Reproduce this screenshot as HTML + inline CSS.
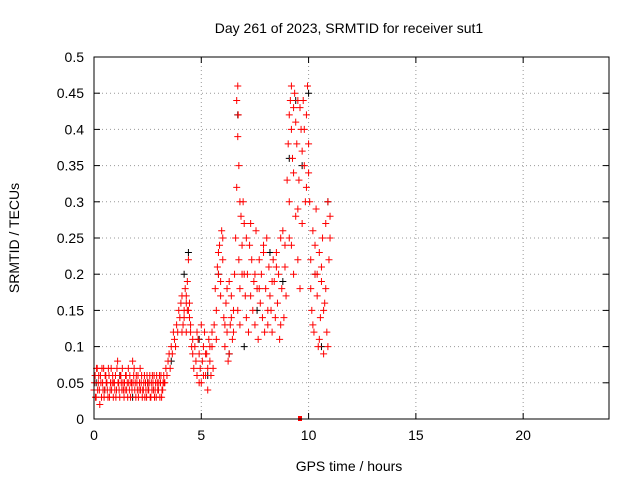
<!DOCTYPE html>
<html><head><meta charset="utf-8"><style>
body{margin:0;background:#fff;}
svg{display:block;font-family:"Liberation Sans",sans-serif;}
</style></head><body>
<svg id="chart" width="640" height="480">
<text x="349" y="33" text-anchor="middle" font-size="14">Day 261 of 2023, SRMTID for receiver sut1</text>
<text x="349" y="471" text-anchor="middle" font-size="14">GPS time / hours</text>
<text transform="translate(19,238) rotate(-90)" text-anchor="middle" font-size="14">SRMTID / TECUs</text>
<g id="grid"></g><g id="axes"></g><g id="marks"></g>
<rect x="94" y="57" width="515" height="362" fill="none" stroke="#000" stroke-width="1"/>
</svg>
<script>
const xTicks=[0,5,10,15,20];
const yTicks=[0,0.05,0.1,0.15,0.2,0.25,0.3,0.35,0.4,0.45,0.5];
const yTickLabels=["0","0.05","0.1","0.15","0.2","0.25","0.3","0.35","0.4","0.45","0.5"];
const redT=[0,0.05,0.1,0.15,0.2,0.25,0.3,0.35,0.4,0.45,0.5,0.55,0.6,0.65,0.7,0.75,0.8,0.85,0.9,0.95,1.0,1.05,1.1,1.15,1.2,1.25,1.3,1.35,1.4,1.45,1.5,1.55,1.6,1.65,1.7,1.75,1.8,1.85,1.9,1.95,2.0,2.05,2.1,2.15,2.2,2.25,2.3,2.35,2.4,2.45,2.5,2.55,2.6,2.65,2.7,2.75,2.8,2.85,2.9,2.95,3.0,3.05,3.1,3.15,3.2,3.25,
0.02,0.07,0.12,0.17,0.22,0.27,0.32,0.37,0.42,0.47,0.52,0.57,0.62,0.67,0.72,0.77,0.82,0.87,0.92,0.97,1.02,1.07,1.12,1.17,1.22,1.27,1.32,1.37,1.42,1.47,1.52,1.57,1.62,1.67,1.72,1.77,1.82,1.87,1.92,1.97,2.02,2.07,2.12,2.17,2.22,2.27,2.32,2.37,2.42,2.47,2.52,2.57,2.62,2.67,2.72,2.77,2.82,2.87,2.92,2.97,3.02,3.07,3.12,3.17,3.22,3.27,
3.3,3.35,3.4,3.45,3.5,3.55,3.6,3.65,3.7,3.75,3.8,3.85,3.9,3.95,4.0,4.05,4.1,4.15,4.2,4.25,4.3,4.35,4.4,4.45,4.5,4.55,4.6,4.1,4.2,4.3,4.4,4.5,4.3,4.35,4.45,
4.6,4.65,4.7,4.75,4.8,4.85,4.9,4.95,5.0,5.05,5.1,5.15,5.2,5.25,5.3,5.35,5.4,5.45,5.5,5.55,4.8,4.9,5.0,5.1,5.2,5.3,5.4,5.5,
5.6,5.65,5.7,5.75,5.8,5.85,5.9,5.95,6.0,6.05,6.1,6.15,6.2,6.25,6.3,6.35,6.4,6.45,6.5,6.55,5.7,5.8,5.9,6.0,6.1,6.2,6.3,6.4,6.5,
6.6,6.65,6.65,6.7,6.7,6.72,6.75,6.75,6.8,6.8,6.85,6.9,6.95,7.0,7.05,7.1,6.7,6.8,6.9,7.0,
7.1,7.15,7.2,7.25,7.3,7.35,7.4,7.45,7.5,7.55,7.6,7.65,7.7,7.75,7.8,7.85,7.9,7.95,8.0,8.05,8.1,8.15,8.2,8.25,8.3,8.35,8.4,8.45,8.5,8.55,8.6,8.65,8.7,8.75,8.8,8.85,8.9,8.95,7.3,7.5,7.7,7.9,8.1,8.3,8.5,8.7,8.9,
9.0,9.05,9.1,9.1,9.15,9.2,9.2,9.25,9.3,9.3,9.35,9.4,9.45,9.5,9.5,9.55,9.6,9.65,9.7,9.75,9.8,9.85,9.9,9.95,10.0,9.1,9.3,9.5,9.7,9.9,9.2,9.4,9.6,9.8,
10.0,10.05,10.1,10.15,10.2,10.25,10.3,10.35,10.4,10.45,10.5,10.55,10.6,10.65,10.7,10.75,10.8,10.85,10.9,10.95,11.0,10.1,10.2,10.3,10.4,10.5,10.6,10.7,10.8,10.9,11.0];
const redV=[.04,.06,.03,.07,.05,.04,.06,.03,.05,.07,.04,.06,.05,.03,.06,.04,.07,.05,.03,.05,.06,.04,.08,.05,.03,.06,.04,.05,.03,.04,.06,.05,.07,.04,.03,.05,.08,.06,.04,.03,.05,.06,.04,.07,.05,.03,.04,.06,.05,.03,.05,.04,.06,.03,.04,.05,.06,.04,.03,.05,.04,.06,.05,.03,.04,.06,
.05,.03,.07,.04,.06,.02,.05,.07,.04,.03,.06,.05,.04,.07,.03,.05,.04,.06,.05,.04,.03,.07,.05,.04,.06,.05,.07,.04,.05,.06,.04,.03,.05,.06,.05,.04,.05,.07,.05,.06,.04,.03,.05,.04,.06,.04,.05,.03,.04,.06,.04,.05,.03,.05,.06,.04,.03,.05,.06,.04,.05,.03,.06,.04,.05,.05,
.05,.07,.06,.08,.09,.07,.1,.09,.12,.11,.1,.13,.12,.15,.14,.16,.17,.13,.15,.18,.16,.19,.22,.14,.12,.1,.11,.12,.14,.12,.15,.13,.17,.15,.16,
.09,.07,.1,.08,.06,.11,.09,.07,.05,.08,.1,.12,.06,.09,.07,.11,.08,.06,.1,.07,.12,.05,.13,.06,.09,.04,.1,.12,
.13,.18,.15,.21,.2,.24,.17,.26,.22,.14,.1,.16,.12,.08,.19,.13,.17,.11,.15,.2,.11,.23,.19,.25,.13,.18,.09,.14,.12,
.25,.32,.44,.46,.39,.42,.22,.35,.3,.18,.28,.24,.3,.2,.17,.25,.15,.13,.2,.27,
.14,.2,.12,.24,.17,.22,.15,.19,.13,.26,.18,.11,.22,.16,.2,.14,.24,.12,.18,.25,.13,.21,.17,.15,.12,.22,.19,.14,.23,.16,.2,.11,.25,.18,.26,.14,.21,.17,.27,.2,.18,.23,.15,.19,.21,.13,.24,
.33,.38,.42,.3,.44,.4,.46,.36,.43,.34,.45,.41,.38,.44,.29,.33,.43,.4,.37,.44,.35,.3,.42,.46,.38,.25,.2,.22,.27,.32,.24,.28,.18,.4,
.34,.3,.22,.15,.26,.12,.2,.29,.17,.1,.23,.14,.19,.25,.09,.16,.27,.12,.3,.22,.28,.18,.13,.24,.2,.11,.21,.15,.18,.1,.25];
const blackT=[0.1,0.5,1.2,1.8,2.5,3.0,3.6,4.2,4.4,4.9,5.3,5.8,6.3,6.7,7.0,7.6,8.2,8.8,9.1,9.4,9.7,10.0,10.3,10.6,10.9];
const blackV=[.05,.04,.06,.03,.05,.04,.08,.2,.23,.11,.06,.2,.09,.42,.1,.15,.23,.19,.36,.44,.35,.45,.2,.1,.3];
const outlierT=[9.6];
const outlierV=[0];

const X0=94,X1=609,Y0=419,Y1=57;
const xs=t=>X0+(t/24)*(X1-X0);
const ys=v=>Y0-(v/0.5)*(Y0-Y1);
const NS="http://www.w3.org/2000/svg";
const grid=document.getElementById('grid'),axes=document.getElementById('axes'),marks=document.getElementById('marks');
function mk(tag,attrs,parent){const e=document.createElementNS(NS,tag);for(const k in attrs)e.setAttribute(k,attrs[k]);parent.appendChild(e);return e;}
xTicks.forEach(t=>{const x=xs(t);
 if(t>0){const g=mk('line',{x1:x,x2:x,y1:Y0,y2:Y1,stroke:'#999','stroke-dasharray':'1,3'},grid);
 
 }
 mk('line',{x1:x,x2:x,y1:Y0,y2:Y0-6,stroke:'#000'},axes);
 mk('line',{x1:x,x2:x,y1:Y1,y2:Y1+6,stroke:'#000'},axes);
 const l=mk('text',{x:x,y:Y0+21,'text-anchor':'middle','font-size':14},axes);l.textContent=t;
 
 });
yTicks.forEach((v,i)=>{const y=ys(v);
 if(v>0&&v<0.5){const g=mk('line',{x1:X0,x2:X1,y1:y,y2:y,stroke:'#999','stroke-dasharray':'1,3'},grid);
 
 }
 mk('line',{x1:X0,x2:X0+6,y1:y,y2:y,stroke:'#000'},axes);
 mk('line',{x1:X1,x2:X1-6,y1:y,y2:y,stroke:'#000'},axes);
 const l=mk('text',{x:X0-10,y:y+5,'text-anchor':'end','font-size':14},axes);l.textContent=yTickLabels[i];
 
 });
function plus(T,V,color,name){T.forEach((t,i)=>{const x=xs(t),y=ys(V[i]);
 const p=mk('path',{d:`M${x-3.5},${y}h7M${x},${y-3.5}v7`,stroke:color,'stroke-width':1},marks);
 
 });}
plus(blackT,blackV,'#000','black-point');
plus(redT,redV,'#f00','red-point');
outlierT.forEach((t,i)=>{const r=mk('rect',{x:xs(t)-2,y:ys(outlierV[i])-3,width:4,height:5,fill:'#f00'},marks);
 
 });
</script>
</body></html>
